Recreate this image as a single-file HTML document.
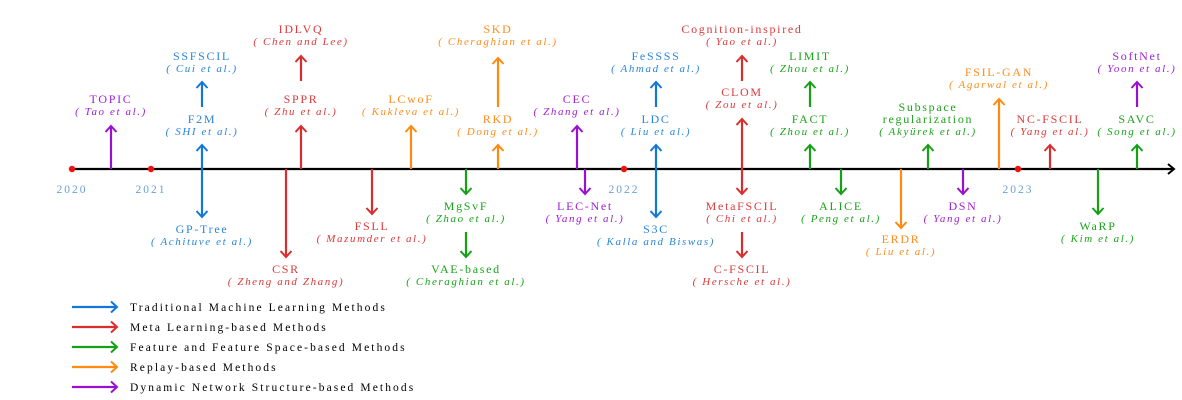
<!DOCTYPE html>
<html><head><meta charset="utf-8"><style>
html,body{margin:0;padding:0;background:#fff;}
svg{display:block;}
text{font-family:"Liberation Serif",serif;text-anchor:middle;}
.n{font-size:12px;letter-spacing:1.7px;}
.c{font-size:11px;font-style:italic;letter-spacing:1.6px;}
.lg{font-size:11.5px;letter-spacing:2.1px;text-anchor:start;fill:#000;}
.y{font-size:11.5px;fill:#6a9fd8;letter-spacing:2px;}
</style></head><body>
<svg width="1182" height="400" viewBox="0 0 1182 400" xmlns="http://www.w3.org/2000/svg">
<defs>
<marker id="mb" markerUnits="userSpaceOnUse" markerWidth="14" markerHeight="14" refX="7" refY="7" orient="auto-start-reverse"><path d="M1,1.5 L7,7 L1,12.5" fill="none" stroke="#1278d8" stroke-width="2"/></marker>
<marker id="mr" markerUnits="userSpaceOnUse" markerWidth="14" markerHeight="14" refX="7" refY="7" orient="auto-start-reverse"><path d="M1,1.5 L7,7 L1,12.5" fill="none" stroke="#d82e2e" stroke-width="2"/></marker>
<marker id="mg" markerUnits="userSpaceOnUse" markerWidth="14" markerHeight="14" refX="7" refY="7" orient="auto-start-reverse"><path d="M1,1.5 L7,7 L1,12.5" fill="none" stroke="#16a016" stroke-width="2"/></marker>
<marker id="mo" markerUnits="userSpaceOnUse" markerWidth="14" markerHeight="14" refX="7" refY="7" orient="auto-start-reverse"><path d="M1,1.5 L7,7 L1,12.5" fill="none" stroke="#ff8a10" stroke-width="2"/></marker>
<marker id="mp" markerUnits="userSpaceOnUse" markerWidth="14" markerHeight="14" refX="7" refY="7" orient="auto-start-reverse"><path d="M1,1.5 L7,7 L1,12.5" fill="none" stroke="#9a10d0" stroke-width="2"/></marker>
<marker id="mk" markerUnits="userSpaceOnUse" markerWidth="14" markerHeight="14" refX="7" refY="7" orient="auto"><path d="M1,2 L7,7 L1,12" fill="none" stroke="#000" stroke-width="2"/></marker>
</defs>

<line x1="72" y1="169" x2="1174" y2="169" stroke="#000" stroke-width="2.2" marker-end="url(#mk)"/>

<g stroke-width="2.2" fill="none">
<g stroke="#9a10d0">
<line x1="111" y1="169" x2="111" y2="126" marker-end="url(#mp)"/>
<line x1="577" y1="169" x2="577" y2="126" marker-end="url(#mp)"/>
<line x1="585" y1="169" x2="585" y2="194" marker-end="url(#mp)"/>
<line x1="963" y1="169" x2="963" y2="194" marker-end="url(#mp)"/>
<line x1="1137" y1="107" x2="1137" y2="82" marker-end="url(#mp)"/>
</g>
<g stroke="#1278d8">
<line x1="202" y1="145" x2="202" y2="217" marker-start="url(#mb)" marker-end="url(#mb)"/>
<line x1="202" y1="107" x2="202" y2="82" marker-end="url(#mb)"/>
<line x1="656" y1="145" x2="656" y2="217" marker-start="url(#mb)" marker-end="url(#mb)"/>
<line x1="656" y1="107" x2="656" y2="82" marker-end="url(#mb)"/>
</g>
<g stroke="#d82e2e">
<line x1="301" y1="169" x2="301" y2="126" marker-end="url(#mr)"/>
<line x1="301" y1="81" x2="301" y2="56" marker-end="url(#mr)"/>
<line x1="286" y1="169" x2="286" y2="257" marker-end="url(#mr)"/>
<line x1="372" y1="169" x2="372" y2="214" marker-end="url(#mr)"/>
<line x1="742" y1="119" x2="742" y2="194" marker-start="url(#mr)" marker-end="url(#mr)"/>
<line x1="742" y1="81" x2="742" y2="56" marker-end="url(#mr)"/>
<line x1="742" y1="232" x2="742" y2="257" marker-end="url(#mr)"/>
<line x1="1050" y1="169" x2="1050" y2="145" marker-end="url(#mr)"/>
</g>
<g stroke="#ff8a10">
<line x1="411" y1="169" x2="411" y2="126" marker-end="url(#mo)"/>
<line x1="498" y1="169" x2="498" y2="145" marker-end="url(#mo)"/>
<line x1="498" y1="107" x2="498" y2="58" marker-end="url(#mo)"/>
<line x1="901" y1="169" x2="901" y2="228" marker-end="url(#mo)"/>
<line x1="999" y1="169" x2="999" y2="99" marker-end="url(#mo)"/>
</g>
<g stroke="#16a016">
<line x1="466" y1="169" x2="466" y2="194" marker-end="url(#mg)"/>
<line x1="466" y1="232" x2="466" y2="257" marker-end="url(#mg)"/>
<line x1="810" y1="169" x2="810" y2="145" marker-end="url(#mg)"/>
<line x1="810" y1="107" x2="810" y2="82" marker-end="url(#mg)"/>
<line x1="841" y1="169" x2="841" y2="194" marker-end="url(#mg)"/>
<line x1="928" y1="169" x2="928" y2="145" marker-end="url(#mg)"/>
<line x1="1098" y1="169" x2="1098" y2="214" marker-end="url(#mg)"/>
<line x1="1137" y1="169" x2="1137" y2="145" marker-end="url(#mg)"/>
</g>
</g>

<g fill="#f01010">
<circle cx="72" cy="169" r="3.2"/><circle cx="151" cy="169" r="3.2"/>
<circle cx="624" cy="169" r="3.2"/><circle cx="1018" cy="169" r="3.2"/>
</g>
<text class="y" x="72" y="193">2020</text>
<text class="y" x="151" y="193">2021</text>
<text class="y" x="624" y="193">2022</text>
<text class="y" x="1018" y="193">2023</text>

<g fill="#a020d8">
<text class="n" x="111" y="103">TOPIC</text><text class="c" x="111" y="115">( Tao et al.)</text>
<text class="n" x="577" y="103">CEC</text><text class="c" x="577" y="115">( Zhang et al.)</text>
<text class="n" x="585" y="210">LEC-Net</text><text class="c" x="585" y="222">( Yang et al.)</text>
<text class="n" x="963" y="210">DSN</text><text class="c" x="963" y="222">( Yang et al.)</text>
<text class="n" x="1137" y="60">SoftNet</text><text class="c" x="1137" y="72">( Yoon et al.)</text>
</g>
<g fill="#2a86dc">
<text class="n" x="202" y="60">SSFSCIL</text><text class="c" x="202" y="72">( Cui et al.)</text>
<text class="n" x="202" y="123">F2M</text><text class="c" x="202" y="135">( SHI et al.)</text>
<text class="n" x="202" y="233">GP-Tree</text><text class="c" x="202" y="245">( Achituve et al.)</text>
<text class="n" x="656" y="60">FeSSSS</text><text class="c" x="656" y="72">( Ahmad et al.)</text>
<text class="n" x="656" y="123">LDC</text><text class="c" x="656" y="135">( Liu et al.)</text>
<text class="n" x="656" y="233">S3C</text><text class="c" x="656" y="245">( Kalla and Biswas)</text>
</g>
<g fill="#dc3a3a">
<text class="n" x="301" y="33">IDLVQ</text><text class="c" x="301" y="45">( Chen and Lee)</text>
<text class="n" x="301" y="103">SPPR</text><text class="c" x="301" y="115">( Zhu et al.)</text>
<text class="n" x="286" y="273">CSR</text><text class="c" x="286" y="285">( Zheng and Zhang)</text>
<text class="n" x="372" y="230">FSLL</text><text class="c" x="372" y="242">( Mazumder et al.)</text>
<text class="n" x="742" y="33">Cognition-inspired</text><text class="c" x="742" y="45">( Yao et al.)</text>
<text class="n" x="742" y="96">CLOM</text><text class="c" x="742" y="108">( Zou et al.)</text>
<text class="n" x="742" y="210">MetaFSCIL</text><text class="c" x="742" y="222">( Chi et al.)</text>
<text class="n" x="742" y="273">C-FSCIL</text><text class="c" x="742" y="285">( Hersche et al.)</text>
<text class="n" x="1050" y="123">NC-FSCIL</text><text class="c" x="1050" y="135">( Yang et al.)</text>
</g>
<g fill="#ff8c1a">
<text class="n" x="411" y="103">LCwoF</text><text class="c" x="411" y="115">( Kukleva et al.)</text>
<text class="n" x="498" y="33">SKD</text><text class="c" x="498" y="45">( Cheraghian et al.)</text>
<text class="n" x="498" y="123">RKD</text><text class="c" x="498" y="135">( Dong et al.)</text>
<text class="n" x="901" y="243">ERDR</text><text class="c" x="901" y="255">( Liu et al.)</text>
<text class="n" x="999" y="76">FSIL-GAN</text><text class="c" x="999" y="88">( Agarwal et al.)</text>
</g>
<g fill="#1aa41a">
<text class="n" x="466" y="210">MgSvF</text><text class="c" x="466" y="222">( Zhao et al.)</text>
<text class="n" x="466" y="273">VAE-based</text><text class="c" x="466" y="285">( Cheraghian et al.)</text>
<text class="n" x="810" y="60">LIMIT</text><text class="c" x="810" y="72">( Zhou et al.)</text>
<text class="n" x="810" y="123">FACT</text><text class="c" x="810" y="135">( Zhou et al.)</text>
<text class="n" x="841" y="210">ALICE</text><text class="c" x="841" y="222">( Peng et al.)</text>
<text class="n" x="928" y="111">Subspace</text><text class="n" x="928" y="123">regularization</text><text class="c" x="928" y="135">( Akyürek et al.)</text>
<text class="n" x="1098" y="230">WaRP</text><text class="c" x="1098" y="242">( Kim et al.)</text>
<text class="n" x="1137" y="123">SAVC</text><text class="c" x="1137" y="135">( Song et al.)</text>
</g>

<g stroke-width="2.2">
<line x1="72" y1="307" x2="117" y2="307" stroke="#1278d8" marker-end="url(#mb)"/>
<line x1="72" y1="327" x2="117" y2="327" stroke="#d82e2e" marker-end="url(#mr)"/>
<line x1="72" y1="347" x2="117" y2="347" stroke="#16a016" marker-end="url(#mg)"/>
<line x1="72" y1="367" x2="117" y2="367" stroke="#ff8a10" marker-end="url(#mo)"/>
<line x1="72" y1="387" x2="117" y2="387" stroke="#9a10d0" marker-end="url(#mp)"/>
</g>
<text class="lg" x="130" y="311">Traditional Machine Learning Methods</text>
<text class="lg" x="130" y="331">Meta Learning-based Methods</text>
<text class="lg" x="130" y="351">Feature and Feature Space-based Methods</text>
<text class="lg" x="130" y="371">Replay-based Methods</text>
<text class="lg" x="130" y="391">Dynamic Network Structure-based Methods</text>
</svg>
</body></html>
